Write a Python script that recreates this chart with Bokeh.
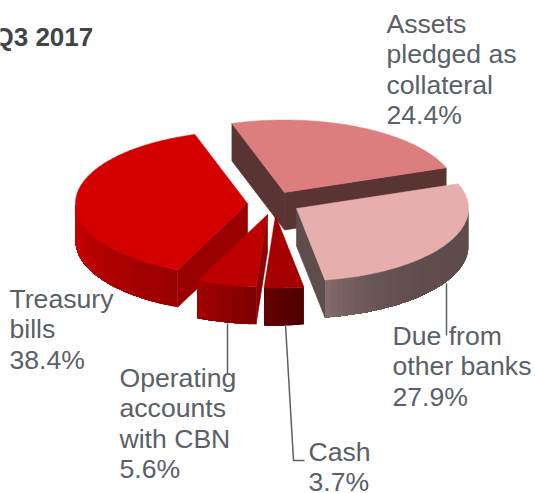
import math
from bokeh.core.properties import value
from bokeh.embed import file_html
from bokeh.models import Range1d
from bokeh.plotting import figure
from bokeh.resources import INLINE

# --- chart data -------------------------------------------------------------
TITLE = "Q3 2017"
CATEGORIES = ["Assets pledged as collateral", "Due from other banks", "Cash",
              "Operating accounts with CBN", "Treasury bills"]
SHARES = [24.4, 27.9, 3.7, 5.6, 38.4]
LABEL_LINES = [["Assets", "pledged as", "collateral", "24.4%"],
               ["Due from", "other banks", "27.9%"],
               ["Cash", "3.7%"],
               ["Operating", "accounts", "with CBN", "5.6%"],
               ["Treasury", "bills", "38.4%"]]

# --- projection and style ---------------------------------------------------
W, H = 535, 493
CX, CY, RX, RY, DEPTH = 268, 199, 172, 72.5, 37.5
FIRST_ANGLE = -17.8
EXPLODE = [(16, -7), (28, 9), (7, 16), (-1, 15), (-21, 4)]
TOP = ["#dc7e7e", "#e7aeae", "#a40000", "#bc0000", "#d40000"]
CUT = ["#5a3333", "#5f4c4c", "#600000", "#8a0000", "#990000"]
RIM = [("#5a3333", "#5a3333", 1), ("#5f4c4c", "#866c6c", 5), ("#4f0000", "#640000", 1),
       ("#7c0000", "#a20000", 1), ("#980000", "#cc0000", 1)]
DRAW_ORDER = [0, 4, 1, 3, 2]
LABEL_POS = [(386, 23), (392, 335), (308, 451), (119, 377), (9, 298)]
LINE_GAP = 30.6
FONT = "Liberation Sans"
TEXT_COLOR = "#5a6068"
LEADERS = [([446, 446], [283, 335]), ([227, 227], [323, 373]),
           ([285, 293, 304], [324, 460, 460])]


def mix(a, b, t):
    ca = [int(a[i:i + 2], 16) for i in (1, 3, 5)]
    cb = [int(b[i:i + 2], 16) for i in (1, 3, 5)]
    return "#%02x%02x%02x" % tuple(round(x + (y - x) * t) for x, y in zip(ca, cb))


def rim_pt(ax, ay, deg):
    r = math.radians(deg)
    return ax + RX * math.sin(r), ay - RY * math.cos(r)


p = figure(width=W, height=H, x_range=Range1d(0, W), y_range=Range1d(H, 0),
           output_backend="svg", toolbar_location=None, min_border=0,
           outline_line_color=None, background_fill_color="white",
           border_fill_color="white", x_axis_location=None, y_axis_location=None)
p.grid.visible = False

# Angular extents of the slices come from the shares.
spans, a = [], FIRST_ANGLE
for s in SHARES:
    spans.append((a, a + s * 3.6))
    a += s * 3.6


def quad(xs, ys, color):
    p.patch(xs, ys, fill_color=color, line_color=color, line_width=0.6)


for i in DRAW_ORDER:
    start, end = spans[i]
    ax, ay = CX + EXPLODE[i][0], CY + EXPLODE[i][1]
    # cut faces, shown when they turn towards the viewer
    for deg, sign in ((start, -1), (end, 1)):
        if sign * math.sin(math.radians(deg)) > 0:
            ex, ey = rim_pt(ax, ay, deg)
            quad([ax, ex, ex, ax], [ay, ey, ey + DEPTH, ay + DEPTH], CUT[i])
    # outer wall on the front half; overlapping bands make its gradient
    lo, hi = max(start, 90), min(end, 270)
    if hi > lo:
        n = max(2, int((hi - lo) / 2))
        for k in range(n):
            a0 = lo + (hi - lo) * k / n
            steps = max(2, int(hi - a0))
            arc = [rim_pt(ax, ay, a0 + (hi - a0) * j / steps) for j in range(steps + 1)]
            xs = [q[0] for q in arc] + [q[0] for q in reversed(arc)]
            ys = [q[1] for q in arc] + [q[1] + DEPTH for q in reversed(arc)]
            t = ((k + 0.5) / n) ** RIM[i][2]
            p.patch(xs, ys, fill_color=mix(RIM[i][0], RIM[i][1], t), line_color=None)
    # top face
    n = max(2, int(end - start))
    pts = [rim_pt(ax, ay, start + (end - start) * k / n) for k in range(n + 1)]
    p.patch([ax] + [q[0] for q in pts], [ay] + [q[1] for q in pts],
            fill_color=TOP[i], line_color=TOP[i], line_width=0.5)

for xs, ys in LEADERS:
    p.line(xs, ys, line_color=TEXT_COLOR, line_width=1.5)

for lines, (lx, ly) in zip(LABEL_LINES, LABEL_POS):
    p.text([lx] * len(lines), [ly + j * LINE_GAP for j in range(len(lines))], text=lines,
           text_font=value(FONT), text_font_size="26.6px", text_color=TEXT_COLOR,
           text_baseline="alphabetic", text_align="left")

p.text([-7], [36], text=[TITLE], text_font=value(FONT), text_font_size="26px",
       text_font_style="bold", text_color="#444444", text_baseline="alphabetic")

open("out.html", "w").write(file_html(p, INLINE))
